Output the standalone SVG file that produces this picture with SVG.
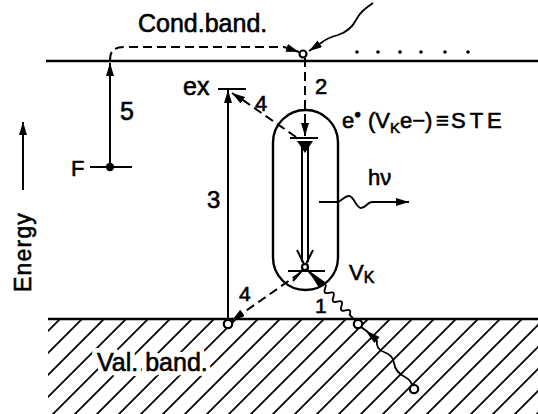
<svg xmlns="http://www.w3.org/2000/svg" width="538" height="414" viewBox="0 0 538 414">
<style>
text{font-family:"Liberation Sans",Arial,sans-serif;fill:#000;stroke:#000;stroke-width:0.6}
.ln{stroke:#000;stroke-width:2;fill:none}
.band{stroke:#000;stroke-width:2.6;fill:none}
.dash{stroke:#000;stroke-width:2;fill:none;stroke-dasharray:9 5}
.hole{fill:#fff;stroke:#000;stroke-width:2.2}
.wave{stroke:#000;stroke-width:1.8;fill:none}
</style>
<defs>
<marker id="ah" markerUnits="userSpaceOnUse" markerWidth="14" markerHeight="10" refX="13" refY="4" orient="auto">
<path d="M0,0 L13,4 L0,8 z" fill="#000"/>
</marker>
<pattern id="hatch" patternUnits="userSpaceOnUse" width="22" height="22" x="5" y="0">
<path d="M0,22 L22,0 M-11,11 L11,-11 M11,33 L33,11" stroke="#000" stroke-width="1.8"/>
</pattern>
<clipPath id="vb"><rect x="48" y="320" width="490" height="94"/></clipPath>
</defs>

<g id="valence-band">
<rect x="48" y="320" width="490" height="94" fill="url(#hatch)" clip-path="url(#vb)"/>
<line class="band" x1="48" y1="319" x2="538" y2="319"/>
<text x="97" y="371" font-size="25" style="fill:#fff;stroke:#fff;stroke-width:10;stroke-linejoin:round">Val. band.</text>
<text x="97" y="371" font-size="25">Val. band.</text>
</g>

<g id="conduction-band">
<line class="band" x1="46" y1="61" x2="538" y2="61"/>
<text x="138" y="32" font-size="25">Cond.band.</text>
<g fill="#000">
<circle cx="357" cy="52" r="1.8"/><circle cx="378" cy="52" r="1.8"/><circle cx="400" cy="52" r="1.8"/>
<circle cx="421" cy="52" r="1.8"/><circle cx="445" cy="52" r="1.8"/><circle cx="468" cy="52" r="1.8"/>
</g>
</g>

<g id="energy-axis">
<line class="ln" x1="23" y1="190" x2="23" y2="122" marker-end="url(#ah)"/>
<text transform="translate(31,292) rotate(-90)" font-size="23" letter-spacing="1.2">Energy</text>
</g>

<g id="fermi-level">
<line class="ln" x1="90" y1="167" x2="132" y2="167"/>
<circle cx="110" cy="167" r="4.2" fill="#000"/>
<text x="71" y="176" font-size="22">F</text>
</g>

<g id="exciton-level">
<line class="ln" x1="218" y1="89" x2="246" y2="89" stroke-width="2.4"/>
<text x="183" y="95" font-size="25">ex</text>
</g>

<g id="ste">
<rect x="273" y="110" width="65" height="180" rx="32.5" ry="32.5" fill="none" stroke="#000" stroke-width="2.4"/>
<line class="ln" x1="290" y1="138" x2="318" y2="138" stroke-width="2.4"/>
<path d="M297,141 L313,141 L305,153 z" fill="#000"/>
<line class="ln" x1="302" y1="146" x2="302" y2="262"/>
<line class="ln" x1="308" y1="146" x2="308" y2="262"/>
<line class="ln" x1="297" y1="250" x2="305" y2="266"/>
<line class="ln" x1="313" y1="250" x2="305" y2="266"/>
<line class="ln" x1="305" y1="267" x2="293" y2="281"/>
<line class="ln" x1="305" y1="267" x2="318" y2="282"/>
<line class="ln" x1="288" y1="271" x2="325" y2="271" stroke-width="2.4"/>
<circle class="hole" cx="305" cy="267" r="3"/>
<text y="128" font-size="22"><tspan x="342">e</tspan><tspan x="354" dy="-10" font-size="12">●</tspan><tspan x="368" dy="10">(V</tspan><tspan dy="5" font-size="15">K</tspan><tspan dy="-5">e−)</tspan><tspan x="436">≡</tspan><tspan x="451" letter-spacing="4">STE</tspan></text>
<text x="349" y="280" font-size="22">V<tspan dy="3" font-size="16">K</tspan></text>
</g>

<g id="holes">
<circle class="hole" cx="303" cy="54" r="3.5"/>
<circle class="hole" cx="228" cy="324" r="4.2"/>
<circle class="hole" cx="358" cy="324" r="4.2"/>
<circle class="hole" cx="414" cy="389" r="4.2"/>
</g>

<g id="connectors">
<path class="dash" d="M110,61 C110,50 114,47 126,47 L284,47"/>
<path class="ln" d="M284,47 L299,52" marker-end="url(#ah)"/>
<path class="wave" d="M373,3 C366,8 360,12 356,20 C352,28 347,32 338,35 C330,37 326,39 321,43 L309,51" marker-end="url(#ah)"/>
<line class="ln" x1="110" y1="167" x2="110" y2="63" marker-end="url(#ah)"/>
<line class="ln" x1="228" y1="320" x2="228" y2="90" marker-end="url(#ah)"/>
<path class="dash" d="M305,58 L305,124"/>
<line class="ln" x1="305" y1="122" x2="305" y2="136" marker-end="url(#ah)"/>
<path class="dash" d="M296,137 L240,98"/>
<line class="ln" x1="241" y1="99" x2="232" y2="93" marker-end="url(#ah)"/>
<path class="dash" d="M300,273 L240,315"/>
<line class="ln" x1="241" y1="314" x2="232" y2="320.5" marker-end="url(#ah)"/>
<path class="wave" d="M319,202 L337,202 C341,202 344,196 349,196 C354,196 356,208 361,208 C366,208 367,202 372,202 L409,202" marker-end="url(#ah)"/>
<path d="M308,270 L325,282 L319,288 z" fill="#000"/>
<path class="wave" transform="translate(321,284) rotate(47)" d="M0,0 c2,-4 4,-4 6,0 s4,4 6,0 s4,-4 6,0 s4,4 6,0 s4,-4 6,0 s4,4 6,0 s4,-4 6,0 l5,0"/>
<line class="ln" x1="361" y1="327" x2="368" y2="332"/>
<path d="M365,330 L379.6,336.9 L374.4,343.1 z" fill="#000"/>
<path class="wave" d="M377,340 C376,346 378,350 384,352 C390,354 393,357 394,363 C395,370 399,374 405,377 C409,379 411,381 412,385"/>
</g>

<g id="labels">
<text x="120" y="120" font-size="25">5</text>
<text x="315" y="94" font-size="22">2</text>
<text x="255" y="111" font-size="22">4</text>
<text x="207" y="208" font-size="24">3</text>
<text x="239" y="301" font-size="21">4</text>
<text x="315" y="313" font-size="21">1</text>
<text x="368" y="185" font-size="22">hν</text>
</g>
</svg>
